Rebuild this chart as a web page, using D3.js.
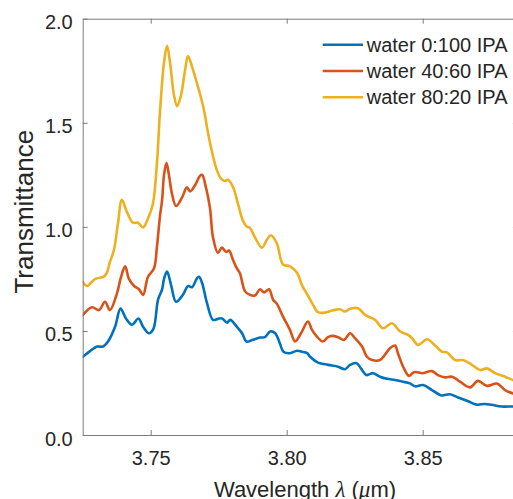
<!DOCTYPE html>
<html>
<head>
<meta charset="utf-8">
<script src="https://cdn.jsdelivr.net/npm/d3@7"></script>
<style>
  html, body { margin: 0; padding: 0; background: #fff; }
  svg { display: block; }
</style>
</head>
<body>
<svg id="chart" width="513" height="499"></svg>
<script>
// ---------- data ----------
const seriesNames = ["water 0:100 IPA", "water 40:60 IPA", "water 80:20 IPA"];
const seriesColors = ["#0072BD", "#D95319", "#EDB120"];

const xTicks = [3.75, 3.80, 3.85];
const yTicks = [0, 0.5, 1.0, 1.5, 2.0];

const blueWl = [3.7251,3.7284,3.7303,3.7325,3.7343,3.7369,3.7389,3.7409,3.7431,3.7455,3.7472,3.7494,3.7510,3.7527,3.7542,3.7549,3.7560,3.7575,3.7593,3.7619,3.7637,3.7652,3.7670,3.7678,3.7689,3.7707,3.7729,3.7747,3.7762,3.7781,3.7792,3.7817,3.7836,3.7852,3.7876,3.7902,3.7920,3.7939,3.7957,3.7975,3.7988,3.8012,3.8038,3.8056,3.8075,3.8086,3.8115,3.8152,3.8189,3.8214,3.8233,3.8257,3.8273,3.8293,3.8317,3.8343,3.8369,3.8398,3.8428,3.8453,3.8472,3.8501,3.8534,3.8569,3.8600,3.8630,3.8667,3.8698,3.8729,3.8753,3.8790,3.8832,3.885];
const blueT  = [0.376,0.41,0.425,0.425,0.449,0.52,0.607,0.56,0.53,0.56,0.52,0.489,0.51,0.65,0.70,0.75,0.785,0.72,0.64,0.675,0.715,0.71,0.753,0.76,0.73,0.633,0.553,0.558,0.56,0.54,0.553,0.52,0.489,0.449,0.458,0.468,0.47,0.497,0.49,0.44,0.40,0.393,0.405,0.40,0.393,0.376,0.348,0.337,0.328,0.316,0.337,0.345,0.32,0.288,0.297,0.28,0.27,0.264,0.256,0.248,0.234,0.24,0.216,0.19,0.196,0.18,0.162,0.146,0.149,0.145,0.137,0.137,0.135];

const orangeWl = [3.7251,3.7284,3.7310,3.7332,3.7350,3.7376,3.7391,3.7406,3.7420,3.7439,3.7457,3.7472,3.7490,3.7512,3.7523,3.7534,3.7542,3.7549,3.7558,3.7567,3.7578,3.7593,3.7615,3.7633,3.7645,3.7663,3.7681,3.7689,3.7703,3.7718,3.7729,3.7747,3.7762,3.7777,3.7788,3.7803,3.7817,3.7828,3.7847,3.7865,3.7883,3.7902,3.7917,3.7935,3.7950,3.7964,3.7986,3.8012,3.8031,3.8053,3.8078,3.8093,3.8111,3.8133,3.8152,3.8167,3.8189,3.8211,3.8233,3.8251,3.8277,3.8295,3.8314,3.8343,3.8361,3.8380,3.8398,3.8409,3.8428,3.8450,3.8468,3.8501,3.8534,3.8556,3.8582,3.8608,3.8637,3.8674,3.8703,3.8736,3.8773,3.8803,3.8832,3.885];
const orangeT  = [0.577,0.614,0.60,0.64,0.60,0.68,0.76,0.81,0.75,0.716,0.70,0.673,0.76,0.80,0.905,1.05,1.13,1.25,1.306,1.25,1.16,1.10,1.14,1.19,1.17,1.20,1.245,1.25,1.19,1.09,0.95,0.876,0.90,0.88,0.886,0.84,0.80,0.777,0.69,0.673,0.67,0.70,0.685,0.70,0.65,0.63,0.57,0.505,0.45,0.49,0.545,0.505,0.473,0.449,0.47,0.476,0.47,0.457,0.489,0.465,0.425,0.376,0.36,0.36,0.385,0.417,0.43,0.393,0.328,0.284,0.302,0.297,0.307,0.288,0.277,0.28,0.256,0.229,0.26,0.236,0.247,0.216,0.20,0.197];

const yellowWl = [3.7251,3.7266,3.7295,3.7328,3.7339,3.7350,3.7365,3.7380,3.7394,3.7413,3.7435,3.7453,3.7472,3.7490,3.7508,3.7523,3.7534,3.7549,3.7560,3.7571,3.7586,3.7597,3.7611,3.7626,3.7637,3.7652,3.7670,3.7685,3.7696,3.7711,3.7729,3.7744,3.7759,3.7773,3.7784,3.7803,3.7821,3.7839,3.7854,3.7865,3.7883,3.7909,3.7928,3.7942,3.7964,3.7986,3.8012,3.8038,3.8056,3.8078,3.8097,3.8115,3.8141,3.8167,3.8196,3.8214,3.8233,3.8262,3.8288,3.8325,3.8354,3.8387,3.8417,3.8446,3.8461,3.8483,3.8516,3.8538,3.8571,3.8589,3.8619,3.8648,3.8681,3.8711,3.8736,3.8766,3.8803,3.8832,3.885];
const yellowT  = [0.735,0.716,0.749,0.761,0.78,0.83,0.89,1.02,1.13,1.07,1.02,1.02,0.997,1.04,1.11,1.306,1.55,1.79,1.87,1.79,1.63,1.58,1.63,1.75,1.82,1.77,1.69,1.62,1.56,1.45,1.34,1.27,1.23,1.22,1.226,1.19,1.11,1.03,1.0,0.995,0.95,0.90,0.94,0.96,0.92,0.82,0.81,0.78,0.72,0.67,0.625,0.59,0.588,0.598,0.604,0.593,0.606,0.609,0.577,0.553,0.513,0.537,0.497,0.481,0.465,0.433,0.46,0.44,0.40,0.397,0.36,0.36,0.337,0.312,0.32,0.297,0.28,0.264,0.258];

const series = [
  { name: seriesNames[0], color: seriesColors[0], wl: blueWl, t: blueT },
  { name: seriesNames[1], color: seriesColors[1], wl: orangeWl, t: orangeT },
  { name: seriesNames[2], color: seriesColors[2], wl: yellowWl, t: yellowT }
];

// ---------- layout ----------
const L = 82.7, R = 517.9, T = 18.7, B = 435;
const font = "'Liberation Sans', Arial, Helvetica, sans-serif";
const mathFont = "'Liberation Serif', 'DejaVu Serif', serif";
const textColor = "#262626";
const axisColor = "#7a7a7a";

const svg = d3.select("#chart");
const x = d3.scaleLinear().domain([3.725, 3.885]).range([L, R]);
const y = d3.scaleLinear().domain([0, 2]).range([B, T]);

svg.append("defs").append("clipPath").attr("id", "clip")
  .append("rect").attr("x", L).attr("y", T).attr("width", R - L).attr("height", B - T);

// lines
const line = d3.line().x(d => x(d[0])).y(d => y(d[1])).curve(d3.curveCatmullRom.alpha(0.5));
const gLines = svg.append("g").attr("clip-path", "url(#clip)");
series.forEach(s => {
  gLines.append("path")
    .datum(s.wl.map((w, i) => [w, s.t[i]]))
    .attr("d", line)
    .attr("fill", "none")
    .attr("stroke", s.color)
    .attr("stroke-width", 2.6)
    .attr("stroke-linejoin", "round")
    .attr("stroke-linecap", "round");
});

// axes
function styleAxis(g, showText) {
  g.select(".domain").attr("stroke", axisColor).attr("stroke-width", 1);
  g.selectAll(".tick line").attr("stroke", axisColor).attr("stroke-width", 1);
  g.selectAll(".tick text").attr("fill", textColor).style("font-family", font).style("font-size", "20px");
  if (!showText) g.selectAll(".tick text").remove();
}

const xAxis = d3.axisBottom(x).tickValues(xTicks).tickFormat(d3.format(".2f")).tickSizeInner(-5).tickSizeOuter(0).tickPadding(16);
const gx = svg.append("g").attr("transform", `translate(0,${B})`).call(xAxis);
styleAxis(gx, true);

const xAxisTop = d3.axisTop(x).tickValues(xTicks).tickSizeInner(-5).tickSizeOuter(0);
const gxt = svg.append("g").attr("transform", `translate(0,${T})`).call(xAxisTop);
styleAxis(gxt, false);

const yAxis = d3.axisLeft(y).tickValues(yTicks).tickFormat(d3.format(".1f")).tickSizeInner(-5).tickSizeOuter(0).tickPadding(10);
const gy = svg.append("g").attr("transform", `translate(${L},0)`).call(yAxis);
styleAxis(gy, true);
gy.selectAll(".tick text").attr("dy", "0.5em");

const yAxisRight = d3.axisRight(y).tickValues(yTicks).tickSizeInner(-5).tickSizeOuter(0);
const gyr = svg.append("g").attr("transform", `translate(${R},0)`).call(yAxisRight);
styleAxis(gyr, false);

// axis labels
const xl = svg.append("text")
  .attr("x", 305).attr("y", 497)
  .attr("text-anchor", "middle")
  .attr("fill", textColor)
  .style("font-family", font).style("font-size", "22px");
xl.append("tspan").text("Wavelength ");
xl.append("tspan").text("λ").style("font-style", "italic").style("font-family", mathFont).style("font-size", "23px");
xl.append("tspan").text(" (");
xl.append("tspan").text("μ").style("font-style", "italic").style("font-family", mathFont).style("font-size", "23px");
xl.append("tspan").text("m)");

svg.append("text")
  .attr("transform", "rotate(-90)")
  .attr("x", -211.7).attr("y", 33)
  .attr("text-anchor", "middle")
  .attr("fill", textColor)
  .style("font-family", font).style("font-size", "26px")
  .text("Transmittance");

// legend
const legendY = [44.7, 71, 97.3];
const lg = svg.append("g");
series.forEach((s, i) => {
  lg.append("line")
    .attr("x1", 322.7).attr("x2", 363)
    .attr("y1", legendY[i]).attr("y2", legendY[i])
    .attr("stroke", s.color).attr("stroke-width", 2.6);
  lg.append("text")
    .attr("x", 366.7).attr("y", legendY[i] + 6.8)
    .attr("fill", textColor)
    .style("font-family", font).style("font-size", "20px")
    .text(s.name);
});
</script>
</body>
</html>
